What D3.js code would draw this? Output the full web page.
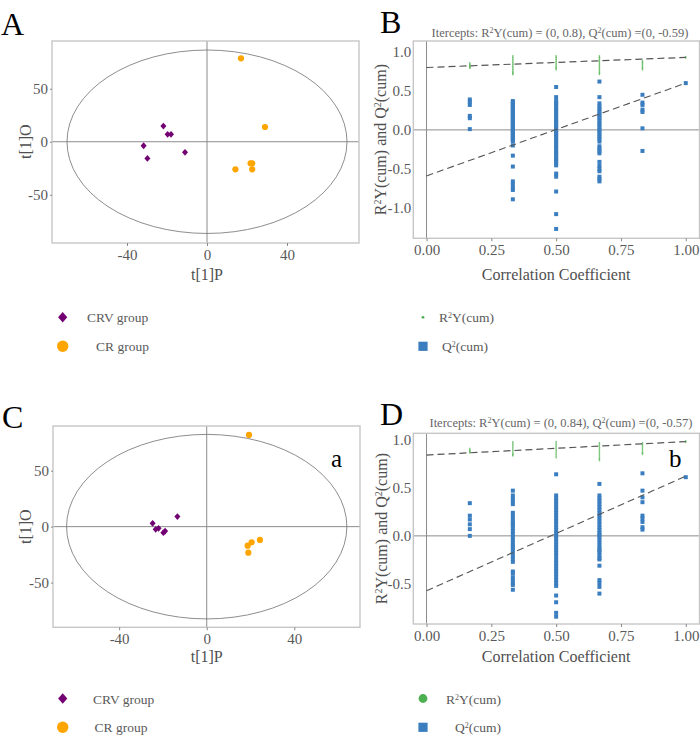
<!DOCTYPE html>
<html><head><meta charset="utf-8">
<script src="https://cdn.jsdelivr.net/npm/d3@7"></script>
<style>body{margin:0;background:#fff} svg{display:block}</style>
</head><body>
<svg id="c" width="700" height="745"></svg>
<script>
// ---------- DATA ----------
const scoreTicksX = [-40, 0, 40];
const scoreTicksY = [-50, 0, 50];
const corrTicks = [0, 0.25, 0.5, 0.75, 1.0];
const bTicksY = [-1.0, -0.5, 0.0, 0.5, 1.0];
const dTicksY = [-0.5, 0.0, 0.5, 1.0];

// Panel A scores
const aCrvX = [-21.8, -19.7, -18, -11, -31.7, -29.8];
const aCrvY = [14.8, 7, 7, -10, -3.8, -15.7];
const aCrX = [17, 29, 21.8, 22.6, 22.6, 14.2];
const aCrY = [78.7, 13.9, -20.4, -20.4, -26, -26];
// Panel C scores
const cCrvX = [-13.4, -24.7, -23.3, -22, -19.8, -19];
const cCrvY = [9, 3, -2.4, -1.5, -5.4, -4];
const cCrX = [19.3, 24.3, 20.5, 18.7, 19];
const cCrY = [82, -11.9, -14, -17, -23.3];

// Permutation columns (correlation coefficient)
const permX = [0.167, 0.333, 0.5, 0.667, 0.833, 1.0];

// Panel B permutation results
const bQ2 = [
  [0.39, 0.36, 0.32, 0.18, 0.15, 0.01],
  [0.37, 0.355, 0.34, 0.32, 0.305, 0.29, 0.27, 0.255, 0.24, 0.22, 0.2, 0.185, 0.17, 0.15, 0.135, 0.12, 0.1, 0.085, 0.07, 0.05, 0.035, 0.02, 0.0, -0.015, -0.03, -0.05, -0.065, -0.08, -0.1, -0.115, -0.13, -0.15, -0.2, -0.33, -0.47, -0.66, -0.7, -0.74, -0.77, -0.89],
  [0.55, 0.42, 0.37, 0.345, 0.32, 0.29, 0.265, 0.24, 0.21, 0.185, 0.16, 0.13, 0.105, 0.08, 0.05, 0.025, 0.0, -0.03, -0.055, -0.08, -0.11, -0.135, -0.16, -0.19, -0.215, -0.24, -0.27, -0.295, -0.32, -0.35, -0.375, -0.4, -0.43, -0.455, -0.56, -0.6, -0.79, -1.08, -1.27],
  [0.62, 0.42, 0.34, 0.3, 0.27, 0.24, 0.21, 0.18, 0.15, 0.12, 0.09, 0.06, 0.03, 0.0, -0.03, -0.06, -0.09, -0.12, -0.15, -0.21, -0.24, -0.27, -0.3, -0.41, -0.46, -0.5, -0.53, -0.6, -0.63, -0.66],
  [0.45, 0.35, 0.32, 0.26, 0.23, 0.02, -0.27],
  [0.6]
];
const bR2 = [
  [0.85, 0.83, 0.81, 0.8],
  [0.94, 0.91, 0.88, 0.85, 0.82, 0.79, 0.76, 0.73, 0.72],
  [0.94, 0.92, 0.89, 0.86, 0.83, 0.8, 0.78],
  [0.94, 0.92, 0.89, 0.86, 0.83, 0.8, 0.77, 0.74, 0.72],
  [0.88, 0.86, 0.83, 0.8, 0.78],
  [0.93]
];
const bIntercepts = {r2: 0.8, q2: -0.59, r2End: 0.93, q2End: 0.6};

// Panel D permutation results
const dQ2 = [
  [0.34, 0.21, 0.17, 0.12, 0.07, 0.0],
  [0.47, 0.42, 0.39, 0.36, 0.33, 0.24, 0.21, 0.18, 0.15, 0.13, 0.11, 0.08, 0.05, 0.02, -0.01, -0.04, -0.07, -0.1, -0.12, -0.15, -0.18, -0.21, -0.24, -0.27, -0.37, -0.39, -0.43, -0.46, -0.49, -0.51, -0.56],
  [0.64, 0.42, 0.39, 0.36, 0.33, 0.3, 0.27, 0.24, 0.21, 0.18, 0.15, 0.12, 0.09, 0.06, 0.03, 0.0, -0.03, -0.06, -0.09, -0.12, -0.15, -0.18, -0.21, -0.25, -0.28, -0.31, -0.34, -0.37, -0.4, -0.43, -0.46, -0.49, -0.52, -0.62, -0.69, -0.8, -0.84],
  [0.54, 0.42, 0.39, 0.36, 0.33, 0.3, 0.27, 0.24, 0.21, 0.18, 0.15, 0.12, 0.09, 0.06, 0.03, 0.01, -0.01, -0.04, -0.07, -0.1, -0.13, -0.15, -0.17, -0.2, -0.23, -0.245, -0.31, -0.46, -0.49, -0.53, -0.6],
  [0.65, 0.47, 0.4, 0.35, 0.21, 0.18, 0.145, 0.09, 0.065],
  [0.61]
];
const dR2 = [
  [0.9, 0.88, 0.87],
  [0.97, 0.94, 0.91, 0.88, 0.85, 0.84],
  [0.97, 0.94, 0.91, 0.88, 0.85, 0.82],
  [0.96, 0.93, 0.9, 0.87, 0.84, 0.81, 0.79],
  [0.96, 0.93, 0.9, 0.87, 0.855],
  [0.98]
];
const dIntercepts = {r2: 0.84, q2: -0.57, r2End: 0.98, q2End: 0.62};

const legendGroups = ["CRV group", "CR group"];

// ---------- STYLE ----------
const FONT = "'Liberation Serif', 'Times New Roman', serif";
const PURPLE = "#730073", ORANGE = "#ffa500", BLUE = "#3a7ebf", GREEN = "#4caf50";
const TICKC = "#595959";
const LABC = "#4f4f4f";
const svg = d3.select("#c");
const fmtMinus = f => v => f(v).replace("\u2212", "-");

function diamondPath(w, h) { return `M0,${-h}L${w},0L0,${h}L${-w},0Z`; }

function styleAxis(g, size) {
  g.attr("font-family", null).attr("font-size", null);
  g.select(".domain").remove();
  g.selectAll(".tick line").attr("stroke", "#888");
  g.selectAll(".tick text").attr("fill", TICKC).style("font-family", FONT).style("font-size", size + "px");
}

function pcaPanel(o) {
  const x = d3.scaleLinear().domain(o.xd).range([o.l, o.r]);
  const y = d3.scaleLinear().domain(o.yd).range([o.b, o.t]);
  const g = svg.append("g");
  const id = "clip" + o.key;
  svg.append("clipPath").attr("id", id).append("rect")
    .attr("x", o.l).attr("y", o.t).attr("width", o.r - o.l).attr("height", o.b - o.t);
  const inner = g.append("g").attr("clip-path", `url(#${id})`);
  inner.append("line").attr("x1", x(0)).attr("x2", x(0)).attr("y1", o.t).attr("y2", o.b)
    .attr("stroke", "#8c8c8c").attr("stroke-width", 1);
  inner.append("line").attr("x1", o.l).attr("x2", o.r).attr("y1", y(0)).attr("y2", y(0))
    .attr("stroke", "#8c8c8c").attr("stroke-width", 1);
  inner.append("ellipse").attr("cx", x(0)).attr("cy", y(0))
    .attr("rx", x(o.ell[0]) - x(0)).attr("ry", y(0) - y(o.ell[1]))
    .attr("fill", "none").attr("stroke", "#707070").attr("stroke-width", 0.8);
  inner.selectAll(".crv").data(o.crvX).enter().append("path")
    .attr("d", diamondPath(3, 3.4))
    .attr("transform", (d, i) => `translate(${x(d)},${y(o.crvY[i])})`)
    .attr("fill", PURPLE);
  inner.selectAll(".cr").data(o.crX).enter().append("circle")
    .attr("cx", d => x(d)).attr("cy", (d, i) => y(o.crY[i])).attr("r", 3.1)
    .attr("fill", ORANGE);
  g.append("rect").attr("x", o.l).attr("y", o.t).attr("width", o.r - o.l).attr("height", o.b - o.t)
    .attr("fill", "none").attr("stroke", "#c6c6c6").attr("stroke-width", 1.4);
  const ax = g.append("g").attr("transform", `translate(0,${o.b})`)
    .call(d3.axisBottom(x).tickValues(scoreTicksX).tickSize(3).tickPadding(3).tickFormat(fmtMinus(d3.format("d"))));
  styleAxis(ax, 15);
  const ay = g.append("g").attr("transform", `translate(${o.l},0)`)
    .call(d3.axisLeft(y).tickValues(scoreTicksY).tickSize(2).tickPadding(2).tickFormat(fmtMinus(d3.format("d"))));
  styleAxis(ay, 15);
  g.append("text").attr("x", x(0)).attr("y", o.xlabY).attr("text-anchor", "middle")
    .attr("fill", LABC).style("font-family", FONT).style("font-size", "16px").text("t[1]P");
  g.append("text").attr("transform", `translate(${o.ylabX},${y(0)}) rotate(-90)`)
    .attr("text-anchor", "middle").attr("dy", "0.35em")
    .attr("fill", LABC).style("font-family", FONT).style("font-size", "16px").text("t[1]O");
}

function permPanel(o) {
  const x = d3.scaleLinear().domain(o.xd).range([o.l, o.r]);
  const y = d3.scaleLinear().domain(o.yd).range([o.b, o.t]);
  const g = svg.append("g");
  const id = "clip" + o.key;
  svg.append("clipPath").attr("id", id).append("rect")
    .attr("x", o.l).attr("y", o.t).attr("width", o.r - o.l).attr("height", o.b - o.t);
  const inner = g.append("g").attr("clip-path", `url(#${id})`);
  inner.append("line").attr("x1", o.l).attr("x2", o.r).attr("y1", y(0)).attr("y2", y(0))
    .attr("stroke", "#8c8c8c").attr("stroke-width", 1);
  inner.append("line").attr("x1", x(0)).attr("x2", x(0)).attr("y1", o.t).attr("y2", o.b)
    .attr("stroke", "#8c8c8c").attr("stroke-width", 1);
  // R2Y marks
  o.r2.forEach((col, ci) => {
    inner.selectAll(null).data(col).enter().append("rect")
      .attr("x", x(permX[ci]) - 0.7).attr("y", d => y(d) - 1.5)
      .attr("width", 1.4).attr("height", 3).attr("fill", "#5cb85c").attr("opacity", 0.8);
  });
  // Q2 squares
  o.q2.forEach((col, ci) => {
    inner.selectAll(null).data(col).enter().append("rect")
      .attr("x", x(permX[ci]) - 2).attr("y", d => y(d) - 2)
      .attr("width", 4).attr("height", 4).attr("fill", BLUE);
  });
  // regression lines
  const dash = "7,4";
  inner.append("line").attr("x1", x(0)).attr("y1", y(o.ic.r2)).attr("x2", x(1)).attr("y2", y(o.ic.r2End))
    .attr("stroke", "#555").attr("stroke-width", 1.2).attr("stroke-dasharray", dash);
  inner.append("line").attr("x1", x(0)).attr("y1", y(o.ic.q2)).attr("x2", x(1)).attr("y2", y(o.ic.q2End))
    .attr("stroke", "#555").attr("stroke-width", 1.1).attr("stroke-dasharray", dash);
  g.append("rect").attr("x", o.l).attr("y", o.t).attr("width", o.r - o.l).attr("height", o.b - o.t)
    .attr("fill", "none").attr("stroke", "#c6c6c6").attr("stroke-width", 1.4);
  const ax = g.append("g").attr("transform", `translate(0,${o.b})`)
    .call(d3.axisBottom(x).tickValues(corrTicks).tickSize(3).tickPadding(3).tickFormat(d3.format(".2f")));
  styleAxis(ax, 15);
  const ay = g.append("g").attr("transform", `translate(${o.l},0)`)
    .call(d3.axisLeft(y).tickValues(o.yt).tickSize(0).tickPadding(2).tickFormat(fmtMinus(d3.format(".1f"))));
  styleAxis(ay, 15);
  g.append("text").attr("x", x(0.5)).attr("y", o.xlabY).attr("text-anchor", "middle")
    .attr("fill", LABC).style("font-family", FONT).style("font-size", "16px").text("Correlation Coefficient");
  const yl = g.append("text").attr("transform", `translate(${o.ylabX},${(o.t + o.b) / 2}) rotate(-90)`)
    .attr("text-anchor", "middle").attr("dy", "0.35em")
    .attr("fill", LABC).style("font-family", FONT).style("font-size", "16px");
  yl.append("tspan").text("R");
  yl.append("tspan").attr("baseline-shift", "super").style("font-size", "10px").text("2");
  yl.append("tspan").text("Y(cum) and Q");
  yl.append("tspan").attr("baseline-shift", "super").style("font-size", "10px").text("2");
  yl.append("tspan").text("(cum)");
  const tt = g.append("text").attr("x", o.titleX).attr("y", o.titleY).attr("text-anchor", "middle")
    .attr("fill", "#666").style("font-family", FONT).style("font-size", "12.5px");
  tt.append("tspan").text("Itercepts: R");
  tt.append("tspan").attr("baseline-shift", "super").style("font-size", "8px").text("2");
  tt.append("tspan").text(`Y(cum) = (0, ${o.ic.r2}), Q`);
  tt.append("tspan").attr("baseline-shift", "super").style("font-size", "8px").text("2");
  tt.append("tspan").text(`(cum) =(0, ${o.ic.q2})`);
}

function legend(o) {
  const g = svg.append("g").style("font-family", FONT).style("font-size", "13.5px");
  g.append("path").attr("d", diamondPath(4.6, 5.2)).attr("transform", `translate(62.7,${o.y1})`).attr("fill", PURPLE);
  g.append("text").attr("x", o.t1).attr("y", o.y1 + 5).attr("fill", "#595959").text(legendGroups[0]);
  g.append("circle").attr("cx", 62.7).attr("cy", o.y2).attr("r", 5.7).attr("fill", ORANGE);
  g.append("text").attr("x", o.t2).attr("y", o.y2 + 5).attr("fill", "#595959").text(legendGroups[1]);
  g.append("circle").attr("cx", 423).attr("cy", o.y1).attr("r", o.gr).attr("fill", GREEN);
  const r = g.append("text").attr("x", o.t3).attr("y", o.y1 + 5).attr("fill", "#595959");
  r.append("tspan").text("R");
  r.append("tspan").attr("baseline-shift", "super").style("font-size", "8px").text("2");
  r.append("tspan").text("Y(cum)");
  g.append("rect").attr("x", 423 - 4.6).attr("y", o.y2 - 4.6).attr("width", 9.2).attr("height", 9.2).attr("fill", BLUE);
  const q = g.append("text").attr("x", o.t4).attr("y", o.y2 + 5).attr("fill", "#595959");
  q.append("tspan").text("Q");
  q.append("tspan").attr("baseline-shift", "super").style("font-size", "8px").text("2");
  q.append("tspan").text("(cum)");
}

function letter(t, x, y, size) {
  svg.append("text").attr("x", x).attr("y", y).attr("fill", "#000")
    .style("font-family", FONT).style("font-size", size + "px").text(t);
}

// ---------- DRAW ----------
pcaPanel({key: "A", l: 52, r: 359, t: 41, b: 243, xd: [-77.5, 76], yd: [-95.5, 95], ell: [70, 86.5],
  crvX: aCrvX, crvY: aCrvY, crX: aCrX, crY: aCrY, xlabY: 280, ylabX: 25});
pcaPanel({key: "C", l: 53, r: 360, t: 426, b: 627.3, xd: [-70.2, 70], yd: [-90, 90], ell: [64, 82.5],
  crvX: cCrvX, crvY: cCrvY, crX: cCrX, crY: cCrY, xlabY: 662, ylabX: 25});
permPanel({key: "B", l: 413.3, r: 699.5, t: 41, b: 238.3, xd: [-0.051, 1.053], yd: [-1.39, 1.14],
  yt: bTicksY, q2: bQ2, r2: bR2, ic: bIntercepts, xlabY: 280, ylabX: 380, titleX: 560, titleY: 37});
permPanel({key: "D", l: 413.3, r: 699.5, t: 433.3, b: 624, xd: [-0.051, 1.053], yd: [-0.916, 1.066],
  yt: dTicksY, q2: dQ2, r2: dR2, ic: dIntercepts, xlabY: 662, ylabX: 381, titleX: 561, titleY: 427});

legend({y1: 317.3, y2: 346.3, t1: 87, t2: 96, t3: 439, t4: 442, gr: 1.4});
legend({y1: 698.5, y2: 727.3, t1: 93, t2: 94.5, t3: 446, t4: 455, gr: 4.4});

letter("A", 1, 35, 32);
letter("B", 380, 33, 32);
letter("C", 2, 428, 32);
letter("D", 380, 425, 32);
letter("a", 331, 467, 25);
letter("b", 669, 467, 25);
</script>
</body></html>
